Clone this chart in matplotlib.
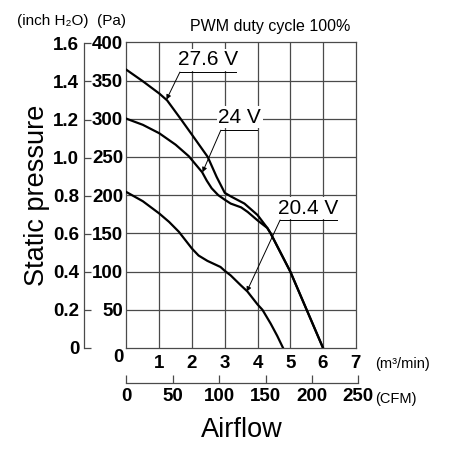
import matplotlib
matplotlib.use('Agg')
import matplotlib.pyplot as plt

# fan P-Q curves
flow_276 = [0, 0.5, 1.0, 1.24, 1.65, 2.0, 2.48, 2.75, 3.0, 3.2, 3.6, 4.0, 4.3, 4.4, 4.7, 5.0, 5.25, 5.5, 5.75, 6.0]
pa_276 = [364, 349, 333, 324, 300, 279, 250, 224, 203, 198, 189, 174, 157, 150, 125, 100, 75, 50, 25, 0]

flow_24 = [0, 0.5, 1.0, 1.5, 1.9, 2.31, 2.45, 2.6, 2.8, 3.0, 3.18, 3.5, 3.7, 4.0, 4.3, 4.4, 4.7, 5.0, 5.25, 5.5, 5.75, 6.0]
pa_24 = [300, 292, 281, 266, 251, 230, 219, 209, 200, 194, 189, 184, 178, 167, 157, 150, 125, 100, 75, 50, 25, 0]

flow_204 = [0, 0.5, 1.0, 1.3, 1.6, 2.0, 2.2, 2.47, 2.87, 3.0, 3.18, 3.49, 3.69, 4.0, 4.15, 4.4, 4.6, 4.78]
pa_204 = [204, 192, 176, 165, 152, 130, 121, 114, 106, 101, 95, 82, 74, 57, 50, 32, 16, 0]

pa_ticks = [0, 50, 100, 150, 200, 250, 300, 350, 400]
inch_ticks = [0, 0.2, 0.4, 0.6, 0.8, 1.0, 1.2, 1.4, 1.6]
inch_labels = ['0', '0.2', '0.4', '0.6', '0.8', '1.0', '1.2', '1.4', '1.6']
m3_ticks = [1, 2, 3, 4, 5, 6, 7]
cfm_ticks = [0, 50, 100, 150, 200, 250]

PA_PER_INCH = 249.089
CFM_PER_M3 = 35.3147

narrow = ['DejaVu Sans Condensed', 'Liberation Sans Narrow', 'Liberation Sans', 'DejaVu Sans']
plain = ['Liberation Sans', 'DejaVu Sans']
grid_c = '#4a4a4a'
tick_font = dict(fontfamily=narrow, fontstretch='condensed', fontsize=13.5, fontweight='bold')


def fx(px):
    return px / 450


def fy(py):
    return 1 - py / 450


fig = plt.figure(figsize=(4.5, 4.5), dpi=100)
x0, x7 = 126.5, 355.8
ax = fig.add_axes([fx(x0), fy(348), (x7 - x0) / 450, 305.7 / 450])
ax.set_xlim(0, 7)
ax.set_ylim(0, 400)

for v in m3_ticks[:-1]:
    ax.axvline(v, color=grid_c, lw=0.9, zorder=1)
for v in pa_ticks[1:-1]:
    ax.axhline(v, color=grid_c, lw=0.9, zorder=1)
for s in ax.spines.values():
    s.set_color(grid_c)
    s.set_linewidth(0.9)

ax.plot(flow_276, pa_276, color='black', lw=1.6, zorder=3)
ax.plot(flow_24, pa_24, color='black', lw=1.6, zorder=3)
ax.plot(flow_204, pa_204, color='black', lw=1.6, zorder=3)

# Pa axis (labels only) and m3/min axis
ax.set_yticks(pa_ticks)
ax.set_yticklabels([''] + [str(v) for v in pa_ticks[1:]], **tick_font)
ax.set_xticks(m3_ticks)
ax.set_xticklabels([str(v) for v in m3_ticks], **tick_font)
ax.tick_params(axis='y', length=0, pad=2.5)
ax.tick_params(axis='x', length=0, pad=5)
fig.text(fx(118), fy(357), '0', ha='center', va='center', **tick_font)

# inch H2O axis
sec_y = ax.secondary_yaxis(-0.1875, functions=(lambda p: p / PA_PER_INCH, lambda i: i * PA_PER_INCH))
sec_y.set_yticks(inch_ticks)
sec_y.set_yticklabels(inch_labels, **tick_font)
sec_y.tick_params(direction='in', length=5, pad=3, color=grid_c, width=0.9)
sec_y.spines['left'].set_bounds(0, 1.6)
sec_y.spines['left'].set_color(grid_c)
sec_y.spines['left'].set_linewidth(0.9)

# CFM axis: its own strip so that 250 CFM (just past 7 m3/min) still shows
cfm_max = 250
cfm_ax = fig.add_axes([fx(x0), fy(382.7), (cfm_max / CFM_PER_M3) * (x7 - x0) / 7 / 450, 0.0001])
cfm_ax.set_xlim(0, cfm_max)
cfm_ax.set_yticks([])
for side in ['top', 'left', 'right']:
    cfm_ax.spines[side].set_visible(False)
cfm_ax.spines['bottom'].set_color(grid_c)
cfm_ax.spines['bottom'].set_linewidth(0.9)
cfm_ax.patch.set_visible(False)
cfm_ax.set_xticks(cfm_ticks)
cfm_ax.set_xticklabels([str(v) for v in cfm_ticks], **tick_font)
cfm_ax.tick_params(direction='in', length=5.8, pad=3.5, color=grid_c, width=0.9)

# voltage labels with leader lines
box = dict(facecolor='white', edgecolor='none', pad=1)
arrow = dict(arrowstyle='-|>', color='black', lw=0.7, mutation_scale=7, shrinkA=0, shrinkB=0)

ax.text(2.49, 377, '27.6 V', ha='center', va='center', fontfamily=plain, fontsize=15, bbox=box, zorder=4)
ax.plot([1.63, 3.34], [361, 361], color='black', lw=0.7, zorder=4)
ax.annotate('', xy=(1.22, 325), xytext=(1.63, 361), arrowprops=arrow, zorder=4)

ax.text(3.46, 302, '24 V', ha='center', va='center', fontfamily=plain, fontsize=15, bbox=box, zorder=4)
ax.plot([2.88, 3.98], [285, 285], color='black', lw=0.7, zorder=4)
ax.annotate('', xy=(2.32, 230), xytext=(2.88, 285), arrowprops=arrow, zorder=4)

ax.text(5.54, 183, '20.4 V', ha='center', va='center', fontfamily=plain, fontsize=15, bbox=box, zorder=4)
ax.plot([4.69, 6.43], [167.5, 167.5], color='black', lw=0.7, zorder=4)
ax.annotate('', xy=(3.67, 73.7), xytext=(4.69, 167.5), arrowprops=arrow, zorder=4)

# unit labels and titles
fig.text(fx(53), fy(21.5), '(inch H₂O)', ha='center', va='center', fontfamily=plain, fontsize=11)
fig.text(fx(112), fy(21.5), '(Pa)', ha='center', va='center', fontfamily=plain, fontsize=11)
fig.text(fx(190), fy(31), 'PWM duty cycle 100%', ha='left', va='baseline', fontfamily=plain, fontsize=11.5)
fig.text(fx(375), fy(364), '(m³/min)', ha='left', va='center', fontfamily=plain, fontsize=10.5)
fig.text(fx(375), fy(399), '(CFM)', ha='left', va='center', fontfamily=plain, fontsize=10.5)
fig.text(fx(37), fy(195), 'Static pressure', ha='center', va='center', rotation=90, fontfamily=plain, fontsize=19.5)
fig.text(fx(242), fy(437), 'Airflow', ha='center', va='baseline', fontfamily=plain, fontsize=19.5)

fig.savefig('out.png', dpi=100)
